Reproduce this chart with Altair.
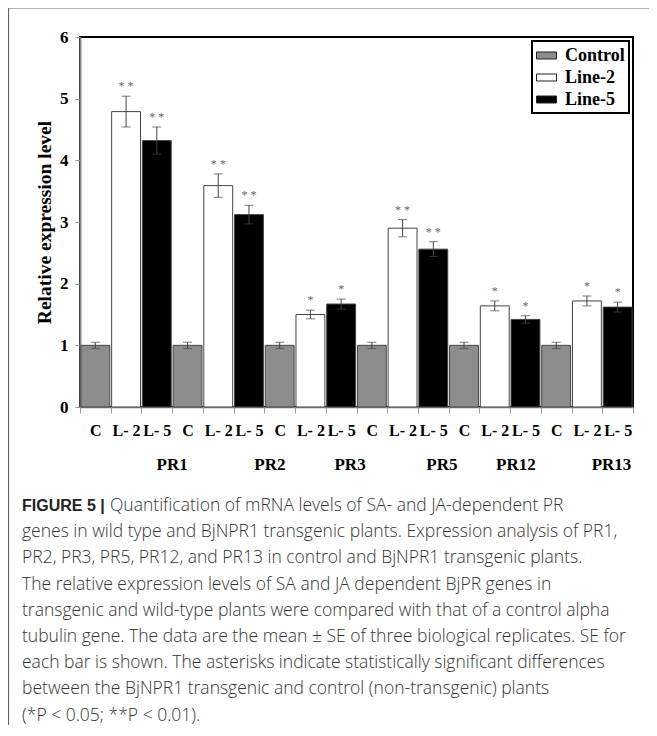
import altair as alt
import pandas as pd

# ---------------- data ----------------
genes = ["PR1", "PR2", "PR3", "PR5", "PR12", "PR13"]
series = ["Control", "Line-2", "Line-5"]
tick_labels = ["C", "L- 2", "L- 5"]

control_mean = [1.0, 1.0, 1.0, 1.0, 1.0, 1.0]
control_se = [0.05, 0.05, 0.05, 0.05, 0.05, 0.05]
line2_mean = [4.79, 3.59, 1.50, 2.90, 1.64, 1.72]
line2_se = [0.25, 0.19, 0.07, 0.14, 0.08, 0.08]
line5_mean = [4.32, 3.12, 1.67, 2.56, 1.42, 1.62]
line5_se = [0.22, 0.15, 0.08, 0.12, 0.06, 0.08]
line2_sig = ["* *", "* *", "*", "* *", "*", "*"]
line5_sig = ["* *", "* *", "*", "* *", "*", "*"]

# position of the gene labels, in bar-slot units (0..18)
gene_label_pos = [3.0, 6.18, 8.79, 11.78, 14.19, 17.3]

caption_head = "FIGURE 5 |"
caption_line1 = "Quantification of mRNA levels of SA- and JA-dependent PR"
caption_rest = [
    "genes in wild type and BjNPR1 transgenic plants. Expression analysis of PR1,",
    "PR2, PR3, PR5, PR12, and PR13 in control and BjNPR1 transgenic plants.",
    "The relative expression levels of SA and JA dependent BjPR genes in",
    "transgenic and wild-type plants were compared with that of a control alpha",
    "tubulin gene. The data are the mean \u00b1 SE of three biological replicates. SE for",
    "each bar is shown. The asterisks indicate statistically significant differences",
    "between the BjNPR1 transgenic and control (non-transgenic) plants",
    "(*P < 0.05; **P < 0.01).",
]

# ---------------- table ----------------
rows = []
means = [control_mean, line2_mean, line5_mean]
ses = [control_se, line2_se, line5_se]
sigs = [[""] * 6, line2_sig, line5_sig]
for gi, g in enumerate(genes):
    for si, s in enumerate(series):
        m = means[si][gi]
        e = ses[si][gi]
        rows.append({
            "bar": f"{g}|{tick_labels[si]}",
            "gene": g,
            "series": s,
            "mean": m,
            "lo": m - e,
            "hi": m + e,
            "sig": sigs[si][gi],
        })
df = pd.DataFrame(rows)
bar_order = list(df["bar"])

serif = "Liberation Serif"
sans = "Open Sans"
ytitle = "Relative expression level"

x_enc = alt.X(
    "bar:N",
    sort=bar_order,
    scale=alt.Scale(domain=bar_order, paddingInner=0, paddingOuter=0),
    axis=alt.Axis(
        title=None,
        labelExpr="split(datum.label, '|')[1]",
        labelAngle=0,
        labelFont=serif,
        labelFontWeight="bold",
        labelFontSize=16,
        labelColor="black",
        labelPadding=9,
        tickBand="extent",
        tickSize=6,
        tickColor="#999999",
        domainColor="#888888",
        domainWidth=1.5,
        labelBound=False,
        labelOverlap=False,
    ),
)

y_scale = alt.Scale(domain=[0, 6], nice=False)
y_axis = alt.Axis(
    title=ytitle,
    titleFont=serif,
    titleFontWeight="bold",
    titleFontSize=19.5,
    titleColor="black",
    titlePadding=5,
    values=[0, 1, 2, 3, 4, 5, 6],
    format="d",
    labelFont=serif,
    labelFontWeight="bold",
    labelFontSize=17,
    labelColor="black",
    labelPadding=7,
    tickSize=5,
    tickColor="#999999",
    domainColor="#888888",
    domainWidth=2,
    grid=False,
)

base = alt.Chart(df)

bars = base.mark_bar(
    width=alt.RelativeBandSize(0.94), stroke="#444444", strokeWidth=1
).encode(
    x=x_enc,
    y=alt.Y("mean:Q", scale=y_scale, axis=y_axis, title=ytitle),
    fill=alt.Fill(
        "series:N",
        scale=alt.Scale(domain=series, range=["#8c8c8c", "#ffffff", "#000000"]),
        legend=alt.Legend(
            title=None,
            orient="top-right",
            offset=4,
            strokeColor="black",
            fillColor="white",
            padding=4,
            labelFont=serif,
            labelFontWeight="bold",
            labelFontSize=18,
            labelColor="black",
            symbolType="M-1,-0.35H1V0.35H-1Z",
            symbolSize=400,
            symbolStrokeColor="#222222",
            symbolStrokeWidth=1,
            symbolOpacity=1,
            rowPadding=2,
            labelOffset=8,
        ),
    ),
)

err_rule = base.mark_rule(color="#444444", strokeWidth=1).encode(
    x=alt.X("bar:N", sort=bar_order),
    y=alt.Y("lo:Q", scale=y_scale, axis=y_axis, title=ytitle),
    y2="hi:Q",
)
cap_lo = base.mark_tick(color="#444444", size=9, thickness=1).encode(
    x=alt.X("bar:N", sort=bar_order),
    y=alt.Y("lo:Q", scale=y_scale, axis=y_axis, title=ytitle),
)
cap_hi = base.mark_tick(color="#444444", size=9, thickness=1).encode(
    x=alt.X("bar:N", sort=bar_order),
    y=alt.Y("hi:Q", scale=y_scale, axis=y_axis, title=ytitle),
)
stars = base.mark_text(
    color="#666666", fontSize=12, font=serif, baseline="alphabetic", dy=-6
).encode(
    x=alt.X("bar:N", sort=bar_order),
    y=alt.Y("hi:Q", scale=y_scale, axis=y_axis, title=ytitle),
    text="sig:N",
)

main = alt.layer(bars, err_rule, cap_lo, cap_hi, stars)

gdf = pd.DataFrame({"gene": genes, "pos": gene_label_pos})
gene_text = alt.Chart(gdf).mark_text(
    font=serif, fontWeight="bold", fontSize=17, color="black", baseline="middle"
).encode(
    x=alt.X("pos:Q", scale=alt.Scale(domain=[0, 18], nice=False, zero=False), axis=None),
    y=alt.value(428),
    text="gene:N",
)

one = pd.DataFrame({"a": [0]})
cap_font = 17.5
cap_color = "#333333"
cap_x = -58
cap_y0 = 469
cap_lh = 26.2

head = alt.Chart(one).mark_text(
    font="Liberation Sans", fontWeight="bold", fontSize=16, color="#222222",
    align="left", baseline="middle",
).encode(x=alt.value(cap_x), y=alt.value(cap_y0), text=alt.value(caption_head))

line1 = alt.Chart(one).mark_text(
    font=sans, fontWeight=300, fontSize=cap_font, color=cap_color,
    align="left", baseline="middle",
).encode(x=alt.value(cap_x + 88), y=alt.value(cap_y0), text=alt.value(caption_line1))

rest = alt.Chart(one).mark_text(
    font=sans, fontWeight=300, fontSize=cap_font, color=cap_color,
    align="left", baseline="middle", lineHeight=cap_lh,
).encode(x=alt.value(cap_x), y=alt.value(cap_y0 + cap_lh), text=alt.value(caption_rest))

border_top = alt.Chart(one).mark_rule(color="#666666", strokeWidth=1.2).encode(
    x=alt.value(-72), x2=alt.value(580), y=alt.value(-29)
)
border_left = alt.Chart(one).mark_rule(color="#666666", strokeWidth=1.2).encode(
    x=alt.value(-71.5), y=alt.value(-29), y2=alt.value(700)
)

chart = alt.layer(
    main, gene_text, head, line1, rest, border_top, border_left
).resolve_scale(x="independent").properties(
    width=553,
    height=370,
    background="white",
    autosize=alt.AutoSizeParams(type="none"),
    padding={"left": 72, "top": 29, "right": 16, "bottom": 318},
).configure_view(
    stroke="black", strokeWidth=2
).configure_legend(
    strokeWidth=2
)

chart.save("out.html", embed_options={"renderer": "svg", "actions": False})
